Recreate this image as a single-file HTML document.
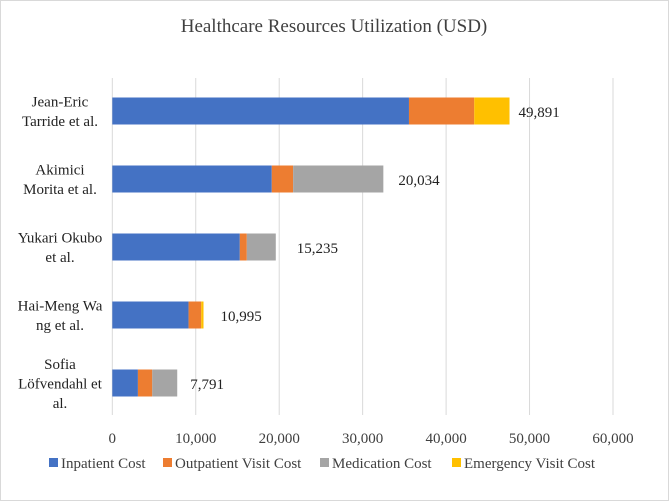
<!DOCTYPE html>
<html><head><meta charset="utf-8"><style>
body{margin:0;background:#fff}
svg{display:block;font-family:"Liberation Serif",serif}
</style></head><body>
<svg id="c" width="669" height="501">
<rect x="0.5" y="0.5" width="668" height="500" fill="#fff" stroke="#d9d9d9"/>
<text x="334" y="32" text-anchor="middle" font-size="19" fill="#404040">Healthcare Resources Utilization (USD)</text>
<g id="grid"></g><g id="bars"></g><g id="labels"></g><g id="legend"></g>
</svg>
<script>
const categories=[["Jean-Eric","Tarride et al."],["Akimici","Morita et al."],["Yukari Okubo","et al."],["Hai-Meng Wa","ng et al."],["Sofia","Löfvendahl et","al."]];
const inpatient=[35550,19110,15280,9140,3070];
const outpatient=[7820,2560,840,1510,1720];
const medication=[0,10810,3470,0,2990];
const emergency=[4230,0,0,280,0];
const totals=["49,891","20,034","15,235","10,995","7,791"];
const ticks=[0,10000,20000,30000,40000,50000,60000];
const seriesNames=["Inpatient Cost","Outpatient Visit Cost","Medication Cost","Emergency Visit Cost"];
const colors=["#4472c4","#ed7d31","#a5a5a5","#ffc000"];
const labelGap=[9,15,21,17,13];
const NS="http://www.w3.org/2000/svg";
const x=v=>112.3+v*0.008345;
const yc=i=>111+i*68;
function mk(tag,at,parent,txt){const e=document.createElementNS(NS,tag);for(const k in at)e.setAttribute(k,at[k]);if(txt!==undefined)e.textContent=txt;document.getElementById(parent).appendChild(e);return e;}
ticks.forEach(t=>{
 const l=mk('line',{x1:x(t),x2:x(t),y1:78,y2:415,stroke:'#d9d9d9'},'grid');
 
 
 const tx=mk('text',{x:x(t),y:443,'text-anchor':'middle','font-size':15,fill:'#404040'},'grid',t.toLocaleString('en-US'));
 
 
});
const series=[inpatient,outpatient,medication,emergency];
categories.forEach((c,i)=>{
 let acc=0;
 series.forEach((s,j)=>{
  if(s[i]>0){const r=mk('rect',{x:x(acc),y:yc(i)-13.5,width:x(acc+s[i])-x(acc),height:27,fill:colors[j]},'bars');
  
  }
  acc+=s[i];
 });
 const v=mk('text',{x:x(acc)+labelGap[i],y:yc(i)+6,'font-size':15,fill:'#222'},'labels',totals[i]);
 
 
 const n=c.length, y0=yc(i)+5-(n-1)*9.5;
 c.forEach((line,k)=>{
  const t=mk('text',{x:60,y:y0+k*19.5,'text-anchor':'middle','font-size':15,fill:'#222'},'labels',line);
  
  
 });
});
const lx=[49,163,320,452];
seriesNames.forEach((s,j)=>{
 const r=mk('rect',{x:lx[j],y:458,width:9,height:9,fill:colors[j]},'legend');
 
 
 const t=mk('text',{x:lx[j]+12,y:468,'font-size':15,fill:'#404040'},'legend',s);
 
 
});
</script>
</body></html>
